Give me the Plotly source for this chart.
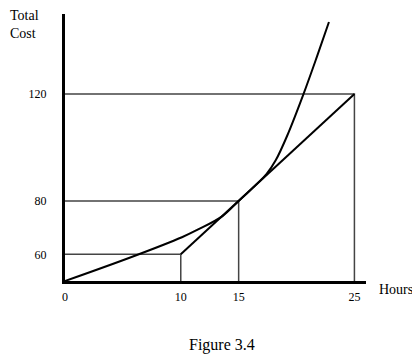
import plotly.graph_objects as go

# Data
hours_ticks = [0, 10, 15, 25]
cost_ticks = [60, 80, 120]

curve_hours = [0, 5.75, 10.1, 11.5, 13.6, 15, 17.4, 18.2, 19.2, 20.6, 21.8, 22.8]
curve_cost = [50, 59, 66.4, 69.3, 74.3, 80, 90, 95.2, 104.5, 120, 134.5, 147]

line_hours = [10, 15, 25]
line_cost = [60, 80, 120]

x_min, x_max = 0, 26
y_min, y_max = 50, 150

# guide lines (horizontal to axis and vertical down to axis)
gx, gy = [], []
for h, c in zip(line_hours, line_cost):
    gx += [x_min, h, h, None]
    gy += [c, c, y_min, None]

serif = "Liberation Serif, Times New Roman, serif"

fig = go.Figure()
fig.add_trace(go.Scatter(x=gx, y=gy, mode="lines",
                         line=dict(color="#444444", width=1.5),
                         hoverinfo="skip", showlegend=False))
fig.add_trace(go.Scatter(x=line_hours, y=line_cost, mode="lines",
                         line=dict(color="black", width=2), showlegend=False))
fig.add_trace(go.Scatter(x=curve_hours, y=curve_cost, mode="lines",
                         line=dict(color="black", width=2, shape="spline", smoothing=1.0),
                         showlegend=False))

fig.update_layout(
    width=412, height=351,
    margin=dict(l=57, r=54, t=6, b=78),
    paper_bgcolor="white", plot_bgcolor="white",
    font=dict(family=serif, size=12, color="black"),
    xaxis=dict(range=[x_min, x_max], tickvals=hours_ticks, showgrid=False,
               zeroline=False, showline=True, linecolor="black", linewidth=3,
               ticks="", ticklabelstandoff=3, fixedrange=True),
    yaxis=dict(range=[y_min, y_max], tickvals=cost_ticks, showgrid=False,
               zeroline=False, showline=True, linecolor="black", linewidth=3,
               ticks="", ticklabelstandoff=13, fixedrange=True),
    annotations=[
        dict(text="Total<br>Cost", xref="paper", yref="paper", x=-0.189, y=1.03,
             xanchor="left", yanchor="top", showarrow=False, align="left",
             font=dict(family=serif, size=14)),
        dict(text="Hours", xref="paper", yref="paper", x=1.035, y=-0.03,
             xanchor="left", yanchor="middle", showarrow=False,
             font=dict(family=serif, size=14)),
        dict(text="Figure 3.4", xref="paper", yref="paper", x=0.52, y=-0.2,
             xanchor="center", yanchor="top", showarrow=False,
             font=dict(family=serif, size=16)),
    ],
)

fig.write_html("out.html")
